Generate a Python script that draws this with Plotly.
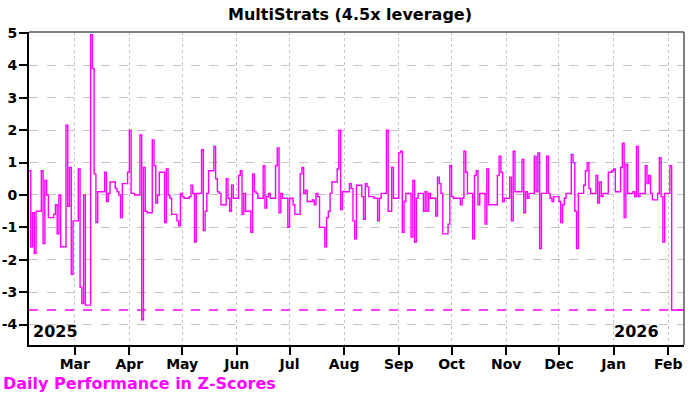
import pandas as pd
import plotly.graph_objects as go

title_text = "MultiStrats (4.5x leverage)"
footer_text = "Daily Performance in Z-Scores"
start_date = "2025-02-03"
axis_end = "2026-02-10"

z_scores = [
    0.75, -1.6, -0.55, -1.8, -0.5, 0.75, -1.5, 0.45, 0.0, -0.7,
    -0.6, -0.3, -1.2, 0.0, -1.6, 2.15, -0.35, 0.85, -2.45, -0.8,
    0.8, -2.85, -3.35, 0.0, -3.4, 4.95, 3.9, 0.65, -0.85, 0.1,
    0.1, 0.7, -0.2, 0.05, 0.4, 0.2, 0.1, 0.0, -0.7, 0.35,
    0.7, 2.0, 0.05, 0.05, 0.0, 1.85, -3.85, 0.85, -0.5, -0.55,
    1.7, 0.9, -0.25, 0.0, 0.7, -0.85, 0.8, 0.0, -0.1, -0.6,
    -0.8,
    -0.95, 0.05, -0.05, -0.1, -0.05, 0.3, 0.05, -1.45, 0.05, 1.4,
    -1.1, -0.5, 0.05, 0.75, 1.5, 0.5, 0.1, 0.05, -0.3, 0.5,
    -0.1, -0.5, 0.3, -0.1, 0.6, 0.75, -0.6, 0.05, -0.5, -1.15,
    0.65, 0.1, 0.05, -0.1, 0.9, -0.4, -0.05, 0.05, -0.1, 0.9,
    1.45, -0.55, 0.05, -0.1, -1.0, -0.1, -0.1, -0.3, -0.6, 0.65,
    0.85, 0.05, 0.15, -0.2, -0.15, -0.3, 0.05, -0.05, -1.0, -1.6,
    -0.7, -0.5, 0.05, 0.4, 0.8, 2.0, -0.45, 0.1, 0.1,
    0.35, 0.2, -0.8, -1.35, 0.3, -0.05, -0.75, 0.35, 0.25, -0.05,
    -0.1, -0.1, -0.8, -0.1, 0.05, 2.0, -0.5, -0.5, 0.85, -0.1,
    1.3, 1.35, -1.15, -0.2, 0.05, -1.3, 0.45, -1.45, -0.1, 0.05,
    -0.5, 0.1, -0.5, 0.05, -0.1, -0.65, 0.55, 0.35, 0.05, -1.2,
    -0.9, 0.9, -0.05, -0.1, -0.1, -0.3, -0.1, 1.35, 0.7, 0.05,
    -1.35, 0.6, 0.75, -0.3, 0.05, -0.9, 0.8, -0.3, -0.3, -0.3,
    0.6, 1.2, 0.7, -0.2, -0.1, 0.55, -0.8, 1.35, 0.1, 0.1,
    1.1, -0.55, 0.1, -0.1, 0.05, 1.2, 0.1, 1.3, -1.65, 0.05,
    1.2, 0.05, -0.1, -0.2, -0.05, -0.2, -0.85, -0.3, -0.1, 0.05,
    1.25, 1.0, -0.5, -1.65, 0.05, 0.3, 0.75, 1.0, 0.2, 0.05,
    0.6, -0.25, 0.4, -0.05, 0.05, 0.7, 0.7, 0.75, 0.8, 0.1,
    0.85, 1.6, -0.7, 0.95, 0.05, 0.1, -0.05, 1.5, -0.05, 0.05,
    0.9, 0.35, 0.6, 0.05, -0.15, 0.05, 1.15, -0.05, -1.45, 0.05,
    0.9, -3.55,
]

month_ticks = ["2025-03-01", "2025-04-01", "2025-05-01", "2025-06-01", "2025-07-01",
               "2025-08-01", "2025-09-01", "2025-10-01", "2025-11-01", "2025-12-01",
               "2026-01-01", "2026-02-01"]
month_labels = ["Mar", "Apr", "May", "Jun", "Jul", "Aug", "Sep", "Oct", "Nov", "Dec", "Jan", "Feb"]
y_ticks = [5, 4, 3, 2, 1, 0, -1, -2, -3, -4]
y_labels = ["5", "4", "3", "2", "1", "0", "-1", "-2", "-3", "-4"]
year_labels = ["2025", "2026"]

MAGENTA = "#ff00ff"
FONT = "DejaVu Sans"

dates = list(pd.bdate_range(start_date, periods=len(z_scores)))
last_value = z_scores[-1]
# extend the last observation to the end of the axis (step line)
xs = dates + [pd.Timestamp(axis_end)]
ys = z_scores + [last_value]

fig = go.Figure()
fig.add_trace(go.Scatter(
    x=xs, y=ys, mode="lines", line=dict(color=MAGENTA, width=1.4, shape="hv"),
    hoverinfo="skip", showlegend=False,
))

# dashed level line at the latest value
fig.add_shape(type="line", xref="paper", x0=0, x1=1, yref="y", y0=last_value, y1=last_value,
              line=dict(color=MAGENTA, width=1.5, dash="dash"), layer="above")
# top and right frame
fig.add_shape(type="line", xref="paper", yref="paper", x0=0, x1=1, y0=1, y1=1,
              line=dict(color="#555555", width=1.5))
fig.add_shape(type="line", xref="paper", yref="paper", x0=1, x1=1, y0=0, y1=1,
              line=dict(color="#555555", width=1.5))

fig.update_xaxes(
    type="date", range=[start_date, axis_end], automargin=False,
    tickmode="array", tickvals=month_ticks, ticktext=month_labels,
    ticks="outside", ticklen=8, tickwidth=2, tickcolor="black",
    ticklabelstandoff=-3,
    showline=True, linecolor="black", linewidth=2,
    showgrid=True, gridcolor="#c4c4c4", gridwidth=1, griddash="dot",
    tickfont=dict(family=FONT, size=14, color="black", weight="bold"),
    zeroline=False, fixedrange=True,
)
fig.update_yaxes(
    range=[-4.63, 5.03], automargin=False,
    tickmode="array", tickvals=y_ticks, ticktext=y_labels,
    ticks="outside", ticklen=8, tickwidth=2, tickcolor="black",
    ticklabelstandoff=-1,
    showline=True, linecolor="black", linewidth=2,
    showgrid=True, gridcolor="#c4c4c4", gridwidth=1, griddash="dash",
    tickfont=dict(family=FONT, size=14, color="black", weight="bold"),
    zeroline=False, fixedrange=True,
)

fig.add_annotation(text=year_labels[0], xref="paper", yref="paper", x=0.003, y=0.005,
                   xanchor="left", yanchor="bottom", showarrow=False,
                   font=dict(family=FONT, size=16, color="black", weight="bold"))
fig.add_annotation(text=year_labels[1], xref="paper", yref="paper", x=0.965, y=0.005,
                   xanchor="right", yanchor="bottom", showarrow=False,
                   font=dict(family=FONT, size=16, color="black", weight="bold"))
fig.add_annotation(text=footer_text, xref="paper", yref="paper", x=-0.042, y=-0.123,
                   xanchor="left", yanchor="middle", showarrow=False,
                   font=dict(family=FONT, size=16, color=MAGENTA, weight="bold"))

fig.update_layout(
    width=700, height=394,
    margin=dict(l=29, r=16, t=32, b=49),
    paper_bgcolor="white", plot_bgcolor="white",
    title=dict(text=title_text, x=0.5, xref="container", xanchor="center",
               y=0.963, yref="container", yanchor="middle",
               font=dict(family=FONT, size=16, color="black", weight="bold")),
    showlegend=False,
)

fig.write_html("out.html", config={"displayModeBar": False},
               post_script="document.body.style.margin='0';")
